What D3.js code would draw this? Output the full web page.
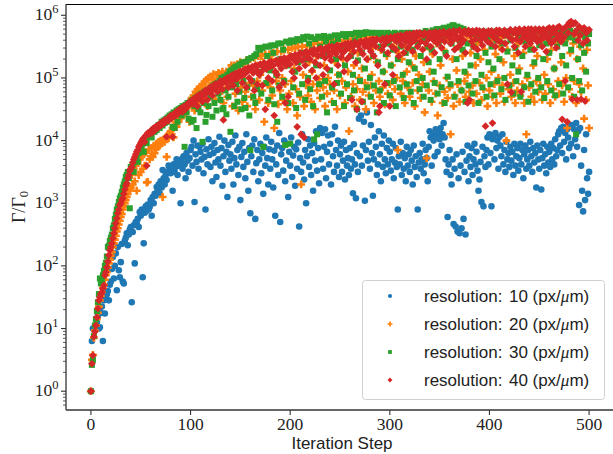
<!DOCTYPE html>
<html><head><meta charset="utf-8">
<script src="https://cdn.jsdelivr.net/npm/d3@7"></script>
<style>body{margin:0;background:#fff;} svg{display:block;}</style>
</head><body><svg id="c" width="613" height="454"></svg>
<script>
// Iteration steps 0..500, values as log10(Γ/Γ0)
const log10Res10 = [
0,0.8,1.0,1.0,0.98,1.02,1.1,1.2,1.0,1.02,
1.25,1.35,0.8,1.45,1.24,1.5,1.55,1.6,1.45,1.7,
1.75,1.95,2.14,1.8,2.0,2.2,1.61,2.3,1.93,1.82,
2.06,2.35,1.75,1.72,2.4,2.45,2.52,2.33,2.5,2.58,
2.62,1.42,2.54,2.65,2.04,2.7,2.68,2.75,2.62,2.86,
2.8,2.9,1.82,2.36,2.85,2.95,2.88,2.98,2.9,2.94,
3.05,2.8,3.1,3.0,3.15,3.12,3.26,3.2,3.3,3.16,
3.35,3.25,3.53,3.4,3.3,3.45,3.37,3.5,3.6,3.53,
3.48,3.55,3.2,3.62,3.5,3.58,3.7,3.45,3.6,3.64,
3.0,3.7,3.55,3.75,3.62,3.4,3.8,3.68,3.5,3.72,
3.85,3.9,3.6,4.0,3.02,3.78,3.66,3.92,3.55,3.9,
3.82,3.7,3.95,3.48,3.74,2.9,3.86,3.62,4.02,3.77,
3.58,3.9,3.35,3.8,3.96,3.65,3.42,3.85,3.7,4.06,
3.6,3.88,3.28,3.75,4.0,3.5,3.82,3.1,3.93,3.68,
3.78,3.55,3.98,3.3,3.72,4.08,3.62,3.85,3.45,3.9,
3.05,3.74,3.96,3.58,3.82,3.4,4.1,3.66,3.2,3.88,
2.84,3.75,3.92,3.5,4.02,2.75,3.64,3.85,3.35,3.7,
3.95,3.48,3.8,3.15,3.9,3.6,4.05,3.72,3.3,3.86,
3.55,3.98,3.7,3.25,3.84,2.8,3.62,3.92,3.45,4.12,
2.7,3.78,3.88,3.52,4.0,3.35,3.68,3.95,3.1,3.82,
3.6,4.05,3.42,3.76,3.9,3.28,3.86,3.55,3.97,2.63,
3.72,3.5,4.1,3.65,3.38,3.85,3.0,3.75,4.02,3.58,
3.92,3.45,3.8,3.2,3.96,3.68,4.15,3.52,3.88,3.32,
4.2,3.7,4.12,3.55,3.9,4.18,3.4,3.82,4.08,3.62,
3.95,3.3,4.1,3.75,3.5,4.22,3.85,3.6,4.0,3.42,
3.78,3.92,3.5,3.68,3.98,3.38,3.85,3.6,3.72,3.45,
3.88,3.55,3.7,3.16,3.94,3.62,3.08,3.8,3.5,4.35,
3.75,4.4,3.6,3.92,4.3,3.04,3.85,4.45,3.68,3.98,
3.55,4.25,3.8,3.12,3.7,4.05,3.9,3.45,3.62,4.15,
3.78,3.35,3.95,3.58,4.08,3.7,3.48,3.88,3.62,4.0,
3.82,3.52,3.7,3.95,3.4,3.65,3.88,3.58,2.9,3.75,
3.62,3.98,3.45,3.8,3.55,3.72,3.35,3.9,3.6,3.78,
3.5,3.85,3.68,3.3,3.92,3.58,3.75,3.42,2.9,3.65,
3.8,3.55,3.7,3.95,3.48,3.62,3.85,3.72,3.35,3.9,
4.15,4.05,3.6,4.1,4.0,3.75,4.18,4.08,3.82,4.12,
4.02,4.2,3.92,4.1,4.28,4.05,3.7,3.5,2.78,3.62,
3.85,3.45,3.3,3.7,2.67,3.55,2.63,3.78,2.55,3.4,
2.52,3.6,2.6,3.82,2.75,3.5,2.5,3.68,3.92,3.35,
3.75,3.58,3.88,3.45,3.7,3.95,3.62,3.82,3.52,3.2,
3.38,3.66,3.02,3.9,2.95,3.75,3.58,3.85,4.05,3.62,
4.1,3.8,2.95,4.02,4.08,3.7,4.12,3.88,4.0,3.55,
4.06,3.92,3.75,4.1,3.62,3.85,3.5,3.98,3.7,3.8,
3.58,3.9,3.68,3.82,3.45,3.95,3.6,3.75,3.88,3.52,
3.72,3.95,3.62,3.85,3.4,3.78,3.92,3.55,3.7,3.85,
3.6,3.98,3.75,3.5,3.88,3.65,3.8,3.25,3.92,3.7,
3.55,3.85,3.22,3.72,3.95,3.6,3.78,3.48,3.9,3.65,
3.82,3.58,3.95,3.7,3.88,3.62,4.02,3.75,3.85,4.1,
4.15,3.92,4.2,3.8,4.22,3.98,4.12,3.7,4.18,4.05,
3.88,4.22,3.95,4.25,3.75,4.18,4.02,4.28,3.9,4.15,
2.97,4.2,3.6,3.2,2.87,3.85,3.05,4.1,3.4,3.15,
3.5];

const log10Res20 = [
0,0.5,0.58,0.85,0.97,1.05,1.15,1.25,1.35,1.45,
1.52,1.58,1.65,1.7,1.78,1.85,1.9,1.97,2.04,2.1,
2.16,2.22,2.3,2.36,2.42,2.48,2.55,2.6,2.66,2.72,
2.78,2.83,2.9,2.95,3.0,3.05,3.1,3.15,3.2,3.22,
3.25,3.45,3.3,3.55,3.35,3.6,3.2,3.65,3.45,3.7,
3.5,3.75,3.55,3.78,3.6,3.82,3.33,3.34,3.85,3.7,
3.75,3.88,3.74,3.92,3.8,3.86,3.95,3.9,3.98,3.92,
4.0,3.96,3.1,4.02,3.98,4.05,3.74,4.08,4.04,4.12,
4.15,4.1,4.2,4.05,4.25,4.3,4.22,4.35,4.3,4.4,
4.42,4.38,4.46,4.4,4.5,4.45,4.55,4.52,4.6,4.3,
4.62,4.68,4.55,4.72,4.48,4.78,4.7,4.82,4.6,4.85,
4.86,4.75,4.9,4.68,4.94,4.82,4.97,4.55,5.0,4.88,
5.02,4.78,4.98,5.06,4.92,4.65,5.05,4.85,5.08,4.75,
5.02,4.9,5.1,4.6,5.05,4.82,5.1,4.7,4.98,5.12,
4.88,5.2,4.55,5.05,5.2,4.75,4.95,5.22,4.48,5.1,
5.25,4.85,4.62,5.22,5.0,4.78,5.28,4.55,5.15,4.92,
5.3,4.7,5.1,4.88,5.32,4.5,5.2,4.95,5.35,4.65,
5.05,5.35,4.8,5.25,4.3,5.38,4.92,5.15,4.6,5.38,
4.85,5.3,4.72,5.4,4.2,5.1,4.95,5.42,4.58,5.25,
4.8,5.42,5.0,4.65,5.45,4.9,5.2,4.5,5.45,4.75,
5.35,4.95,5.48,4.6,5.15,5.48,4.82,4.4,5.5,5.3,
4.7,3.3,5.5,5.05,4.55,5.4,4.88,5.52,4.72,5.25,
5.52,4.62,5.1,4.9,5.55,4.5,5.35,4.8,5.55,4.98,
4.68,5.45,5.55,4.85,5.2,4.55,5.58,4.75,5.0,5.58,
4.9,5.4,4.62,5.58,4.8,5.25,5.6,4.5,5.05,5.6,
4.72,5.5,4.95,5.3,5.6,4.6,4.85,5.62,5.1,4.15,
5.45,4.7,5.62,4.9,5.2,4.55,5.62,4.82,5.4,5.0,
4.65,5.63,5.15,4.78,5.55,4.92,4.5,5.64,5.3,4.72,
5.64,4.88,5.05,5.5,4.6,5.65,4.8,5.25,5.65,4.95,
4.7,5.45,5.65,4.85,5.1,4.58,5.66,5.35,4.75,5.6,
4.9,5.64,5.2,4.65,5.5,4.82,5.67,5.0,3.85,5.4,
5.62,4.75,5.3,4.95,5.68,4.6,5.5,5.1,4.85,5.65,
4.7,5.45,5.2,4.92,5.63,4.55,5.35,5.67,4.8,5.05,
5.6,4.68,5.65,4.9,5.25,4.45,5.62,3.72,5.5,4.8,
5.1,5.68,4.62,5.38,4.95,5.64,4.75,5.55,4.4,5.66,
4.88,5.2,5.62,4.6,5.45,4.78,5.68,5.0,4.68,5.6,
4.85,4.1,5.65,5.3,4.55,4.72,5.63,5.12,4.9,5.5,
4.62,5.67,4.8,5.35,5.62,4.95,4.7,5.58,5.05,5.68,
4.78,5.4,5.64,4.88,4.6,5.66,5.2,4.75,5.55,5.62,
4.92,5.3,4.65,5.67,4.82,5.45,5.63,5.0,4.55,5.68,
4.8,5.6,5.1,4.7,5.65,4.9,5.38,4.6,5.67,5.0,
5.5,4.75,5.64,4.88,5.25,4.62,5.68,4.0,5.45,4.82,
5.66,5.05,4.7,5.62,4.92,5.35,4.6,5.69,4.8,5.55,
5.15,4.72,5.65,4.9,5.4,4.6,5.68,4.1,5.0,5.63,
4.85,5.5,4.7,5.67,5.2,4.62,5.7,4.95,5.35,4.78,
5.64,4.88,5.58,4.65,5.68,5.05,4.75,5.7,5.3,4.9,
5.66,4.6,5.45,5.7,4.82,5.15,4.7,5.65,5.55,4.95,
4.75,5.68,5.25,4.88,5.72,4.62,5.6,5.0,4.2,5.7,
4.82,5.4,5.66,4.7,5.55,4.95,5.72,4.6,5.3,5.68,
4.9,5.5,4.78,5.7,5.15,4.35,5.65,4.65,5.45,4.88,
4.2];

const log10Res30 = [
0,0.42,0.5,0.88,1.05,1.15,1.28,1.42,1.55,1.8,
1.72,1.78,1.85,1.92,2.0,2.05,2.15,2.3,2.32,2.4,
2.45,2.5,2.6,2.65,2.75,2.82,2.9,2.95,3.02,3.08,
3.12,3.18,3.25,3.3,3.35,3.42,3.45,3.5,3.4,2.92,
3.58,3.55,3.62,3.5,3.7,3.68,3.74,3.66,3.8,3.84,
3.88,3.9,3.95,3.82,4.0,4.03,3.96,4.06,4.08,4.1,
4.12,4.05,4.15,4.18,4.14,4.2,4.17,4.22,4.25,4.2,
4.26,4.3,4.24,4.32,4.28,4.34,4.3,4.37,4.35,4.4,
4.38,4.42,4.22,4.45,4.2,4.44,4.48,4.3,4.5,4.46,
4.52,4.4,4.55,4.5,3.9,4.57,4.45,4.6,4.35,4.58,
4.62,4.3,4.65,4.33,4.55,4.68,4.2,4.7,4.5,4.72,
4.45,4.75,3.98,4.6,4.78,4.3,4.41,4.8,4.55,4.82,
4.7,4.85,4.38,4.88,4.6,4.9,4.48,4.92,4.75,4.95,
4.65,5.0,4.5,4.52,5.02,4.8,4.42,5.05,4.7,5.1,
4.14,5.12,4.85,5.15,4.55,5.18,4.9,4.62,5.2,4.78,
5.22,4.5,5.25,4.95,4.68,4.52,5.26,4.85,5.3,4.4,
3.85,5.32,4.95,4.7,5.35,4.6,5.38,4.82,5.48,5.1,
5.45,4.75,5.48,3.9,5.2,5.5,4.92,5.35,4.65,5.5,
5.12,5.52,4.8,5.4,4.58,5.52,5.05,4.3,5.55,4.88,
5.3,5.55,4.7,5.45,4.95,3.93,5.58,5.2,4.6,5.56,
3.95,5.6,5.35,4.85,5.58,5.1,4.52,5.62,5.25,4.75,
5.6,5.4,4.9,5.65,5.62,4.65,5.3,5.66,5.0,5.55,
4.82,5.65,5.45,4.55,4.02,5.62,5.2,4.1,5.66,4.9,
5.5,5.64,4.7,5.35,5.67,4.95,5.58,4.45,5.4,5.65,
5.12,5.66,4.85,5.55,4.6,5.68,5.3,4.92,5.62,5.05,
5.68,4.75,5.45,5.7,4.55,5.2,5.66,4.9,5.5,5.7,
4.68,5.35,5.7,5.05,4.8,5.6,5.72,4.5,5.28,5.68,
4.95,5.72,5.4,4.62,5.7,5.15,5.73,4.85,5.55,5.72,
5.0,4.7,5.72,5.35,4.88,5.6,5.72,4.45,5.25,5.7,
4.8,5.5,5.72,5.1,4.6,5.68,5.38,4.92,5.72,5.55,
4.72,5.2,5.7,5.45,4.95,5.72,4.55,5.6,5.3,5.7,
4.85,5.5,5.72,5.05,4.68,5.65,5.4,4.9,5.72,5.25,
5.6,4.78,5.72,5.45,4.6,5.15,5.7,4.95,5.55,5.72,
4.82,5.35,5.72,5.0,4.7,5.62,5.75,4.88,5.5,5.25,
5.72,4.65,5.45,5.76,5.1,4.92,5.68,5.78,4.75,5.55,
5.3,5.78,4.85,5.62,5.8,4.6,5.4,5.8,5.02,5.7,
5.82,4.9,5.55,5.84,5.84,4.7,5.78,5.3,5.82,4.95,
5.6,5.8,4.8,5.45,5.78,5.1,4.62,5.75,5.55,4.88,
5.74,5.2,5.7,4.75,5.5,5.74,4.95,5.35,5.72,4.6,
5.62,5.72,5.05,4.85,5.74,5.73,5.4,4.7,5.65,5.25,
5.72,4.9,5.5,5.74,5.15,4.72,5.7,5.6,4.95,5.74,
5.3,5.72,4.82,5.55,5.74,5.0,4.65,5.68,5.42,5.74,
4.88,5.6,5.74,5.2,4.75,5.72,5.48,4.95,5.74,5.1,
5.65,4.7,5.74,5.35,5.72,4.85,5.58,5.75,5.05,4.62,
5.74,5.45,4.9,5.7,5.75,5.25,4.78,5.62,5.75,5.0,
5.52,5.75,4.85,5.68,5.3,4.68,5.75,5.55,4.95,5.72,
5.4,5.75,4.8,5.62,5.75,5.15,4.72,5.7,5.5,5.75,
4.9,5.6,5.75,5.35,4.75,5.72,5.55,5.2,5.75,4.85,
5.65,5.75,5.45,5.0,5.72,4.7,5.6,4.1,5.75,5.3,
4.95,5.7,5.52,4.8,5.72,5.4,5.65,5.1,5.72,5.55,
5.7];

const log10Res40 = [
0,0.44,0.57,0.87,0.95,1.05,1.18,1.32,1.45,1.5,
1.55,1.58,1.64,1.69,1.85,1.9,1.98,2.07,2.17,2.25,
2.3,2.36,2.44,2.52,2.6,2.68,2.76,2.84,2.9,2.97,
3.0,3.05,3.08,3.15,3.22,3.28,3.32,3.4,3.45,3.52,
3.55,3.58,3.65,3.7,3.74,3.78,3.82,3.85,3.9,3.93,
3.96,3.99,4.02,4.04,3.98,4.08,3.6,4.12,4.1,4.14,
4.15,4.12,4.18,4.2,4.16,4.22,4.19,4.24,4.21,4.26,
4.28,4.25,4.3,4.27,4.33,4.3,4.06,4.35,4.32,4.38,
4.4,4.36,4.06,4.42,4.39,4.45,4.41,4.47,4.44,4.5,
4.48,4.52,4.46,4.54,4.54,4.5,4.57,4.55,4.6,4.58,
4.62,4.6,4.65,4.58,4.67,4.63,4.7,4.55,4.72,4.68,
4.74,4.7,4.62,4.77,4.73,4.8,4.76,4.65,4.82,4.78,
4.85,4.8,4.72,4.88,4.84,4.9,4.86,4.78,4.92,4.88,
4.95,4.9,4.82,4.33,4.97,4.94,4.93,5.0,4.85,4.96,
5.02,4.95,5.05,4.88,5.0,5.07,4.98,4.8,5.09,5.04,
5.1,5.03,4.92,5.12,5.06,5.14,4.85,5.1,5.16,5.0,
5.15,4.95,5.18,5.08,4.8,5.2,5.12,4.9,5.2,5.05,
5.22,5.1,4.88,5.18,5.24,4.5,5.14,5.22,5.0,5.25,
5.18,5.26,4.95,5.2,4.4,5.1,5.28,5.05,5.22,4.85,
5.3,5.15,5.25,4.92,5.32,4.6,5.2,5.28,4.7,5.33,
5.22,5.35,5.1,5.3,5.0,5.37,5.25,4.22,5.34,5.15,
5.4,4.1,5.28,5.38,4.05,5.2,5.42,5.32,4.95,5.4,
5.3,5.43,5.12,5.38,5.45,5.25,5.0,5.44,5.35,5.46,
5.2,5.47,5.38,5.05,5.45,5.32,5.48,5.15,5.42,5.5,
5.35,5.28,5.5,5.42,4.9,5.48,5.38,5.52,5.2,5.45,
5.5,5.33,5.52,5.4,5.1,5.54,5.45,5.3,5.55,5.48,
5.35,5.55,4.65,5.5,5.42,5.57,5.25,4.5,5.52,5.56,
5.45,5.58,4.62,5.38,5.55,5.5,5.6,5.3,5.57,5.48,
5.6,5.42,5.55,5.62,5.35,5.58,5.5,5.62,5.2,4.45,
4.55,5.6,5.45,5.63,5.52,4.9,5.58,5.64,5.4,5.6,
4.55,5.65,5.5,5.05,5.62,5.66,5.45,5.58,5.67,5.35,
5.6,5.68,5.52,5.65,5.4,5.68,5.58,5.7,5.48,5.62,
5.7,5.55,5.68,5.42,5.71,5.6,5.65,5.72,5.5,5.68,
5.72,5.58,5.7,5.45,5.68,5.72,5.55,5.3,5.7,5.62,
5.72,5.5,5.68,5.72,5.6,5.4,5.73,5.65,5.55,5.7,
5.73,5.62,5.48,5.7,5.74,5.58,5.68,5.35,5.72,5.65,
5.74,5.55,5.7,5.6,5.75,5.45,5.68,5.74,5.62,5.5,
5.76,5.65,5.55,5.72,5.6,5.75,5.4,5.7,4.6,5.76,
4.65,5.68,5.58,5.75,5.5,5.72,5.62,5.76,5.45,5.7,
5.75,5.6,5.68,5.52,5.75,5.65,4.23,5.72,5.58,5.75,
5.7,5.55,5.75,4.28,5.65,5.72,5.5,5.76,5.6,5.7,
5.76,5.58,5.72,5.45,5.68,5.76,5.55,5.7,4.9,5.74,
5.65,5.77,4.77,5.6,5.72,5.5,5.77,5.62,5.7,5.4,
5.78,5.58,4.78,5.72,5.65,5.78,5.5,5.7,5.62,5.78,
5.68,5.55,5.78,5.62,5.72,5.45,5.78,5.65,5.58,5.75,
5.78,5.6,5.7,5.5,5.78,5.65,5.72,5.42,5.78,5.62,
5.8,5.68,5.55,5.75,5.8,5.6,5.72,5.48,5.8,5.65,
5.82,5.7,5.58,4.34,5.78,5.65,4.95,5.82,4.3,5.72,
5.88,5.84,5.9,4.66,5.86,5.7,5.88,5.75,4.65,5.6,
5.82,5.68,4.66,5.78,5.55,5.8,4.63,5.72,5.6,5.75,
5.77];

const seriesLabels = ["10", "20", "30", "40"];
const seriesColors = ["#1f77b4", "#ff7f0e", "#2ca02c", "#d62728"];
const xTickValues = [0, 100, 200, 300, 400, 500];
const yTickExponents = [0, 1, 2, 3, 4, 5, 6];

const svg = d3.select("#c");
const L = 66, R = 614, T = 4, B = 410;

const x = d3.scaleLinear().domain([-25, 525]).range([L, R]);
const y = d3.scaleLog().domain([Math.pow(10, -0.3), Math.pow(10, 6.18)]).range([B, T]);

const shapes = [
  {type: d3.symbolCircle, size: 34, rot: 0},
  {type: d3.symbolCross, size: 34, rot: 0},
  {type: d3.symbolSquare, size: 36, rot: 0},
  {type: d3.symbolSquare, size: 30, rot: 45}
];

const allSeries = [log10Res10, log10Res20, log10Res30, log10Res40];

svg.append("defs").append("clipPath").attr("id", "clip")
  .append("rect").attr("x", L).attr("y", T).attr("width", R - L).attr("height", B - T);

const plot = svg.append("g").attr("clip-path", "url(#clip)");

allSeries.forEach((arr, k) => {
  const sh = shapes[k];
  const sym = d3.symbol().type(sh.type).size(sh.size)();
  plot.append("g").selectAll("path")
    .data(arr.map((v, i) => ({s: i, v: Math.pow(10, v)})))
    .join("path")
    .attr("d", sym)
    .attr("transform", d => `translate(${x(d.s)},${y(d.v)}) rotate(${sh.rot})`)
    .attr("fill", seriesColors[k]);
});

// spines
svg.append("line").attr("x1", L).attr("x2", R).attr("y1", T + 0.5).attr("y2", T + 0.5).attr("stroke", "#000").attr("stroke-width", 1);
svg.append("line").attr("x1", L).attr("x2", L).attr("y1", T).attr("y2", B).attr("stroke", "#333").attr("stroke-width", 1.3);
svg.append("line").attr("x1", L).attr("x2", R).attr("y1", B).attr("y2", B).attr("stroke", "#333").attr("stroke-width", 1.3);

const serif = "'Liberation Serif', 'Times New Roman', serif";
const sans = "'Liberation Sans', Arial, sans-serif";

// x ticks
xTickValues.forEach(t => {
  svg.append("line").attr("x1", x(t)).attr("x2", x(t)).attr("y1", B).attr("y2", B + 5)
    .attr("stroke", "#333").attr("stroke-width", 1.1);
  svg.append("text").attr("x", x(t)).attr("y", 430).attr("text-anchor", "middle")
    .attr("font-family", serif).attr("font-size", 17.5).attr("fill", "#222").text(t);
});

// y major ticks
yTickExponents.forEach(e => {
  const yy = y(Math.pow(10, e));
  svg.append("line").attr("x1", L - 5).attr("x2", L).attr("y1", yy).attr("y2", yy)
    .attr("stroke", "#333").attr("stroke-width", 1.1);
  const t = svg.append("text").attr("x", 58.5).attr("y", yy + 5).attr("text-anchor", "end")
    .attr("font-family", serif).attr("font-size", 17.5).attr("fill", "#222");
  t.append("tspan").text("10");
  t.append("tspan").attr("dy", -7).attr("font-size", 12.5).text(e);
});
// y minor ticks
const [d0, d1] = y.domain();
for (let e = -1; e <= 6; e++) {
  for (let m = 2; m <= 9; m++) {
    const v = m * Math.pow(10, e);
    if (v < d0 || v > d1) continue;
    const yy = y(v);
    svg.append("line").attr("x1", L - 3).attr("x2", L).attr("y1", yy).attr("y2", yy)
      .attr("stroke", "#333").attr("stroke-width", 0.8);
  }
}

// axis labels
svg.append("text").attr("x", 342).attr("y", 449).attr("text-anchor", "middle")
  .attr("font-family", sans).attr("font-size", 17).attr("fill", "#222").text("Iteration Step");

const yl = svg.append("text").attr("transform", "translate(25,207) rotate(-90)")
  .attr("text-anchor", "middle").attr("font-family", serif).attr("font-size", 18).attr("fill", "#222");
yl.append("tspan").text("Γ/Γ");
yl.append("tspan").attr("dy", 3).attr("font-size", 12.5).text("0");

// legend
const lg = svg.append("g");
lg.append("rect").attr("x", 362.5).attr("y", 280.5).attr("width", 242).attr("height", 119).attr("rx", 3)
  .attr("fill", "#fff").attr("fill-opacity", 0.85).attr("stroke", "#d0d0d0").attr("stroke-width", 1);
seriesLabels.forEach((lab, k) => {
  const yy = 296 + k * 28;
  const sh = shapes[k];
  lg.append("path").attr("d", d3.symbol().type(sh.type).size(sh.size * 0.4)())
    .attr("transform", `translate(390,${yy}) rotate(${sh.rot})`).attr("fill", seriesColors[k]);
  const t = lg.append("text").attr("y", yy + 6).attr("font-family", sans).attr("font-size", 17).attr("fill", "#222");
  t.append("tspan").attr("x", 424).text("resolution:");
  t.append("tspan").attr("x", 509).text(lab);
  t.append("tspan").attr("x", 532.5).text("(px/");
  t.append("tspan").attr("font-family", serif).attr("font-style", "italic").text("μ");
  t.append("tspan").text("m)");
});
</script>
</body></html>
